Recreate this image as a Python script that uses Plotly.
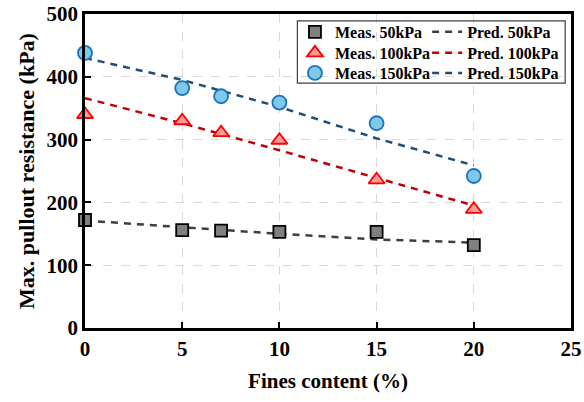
import plotly.graph_objects as go

fines_meas = [0, 5, 7, 10, 15, 20]
meas_50 = [172, 156, 155, 153, 153, 132]
meas_100 = [340, 330, 311, 299, 236, 189]
meas_150 = [438, 382, 369, 359, 326, 242]

fines_pred = [0, 5, 10, 15, 20]
pred_50 = [171, 160, 150, 141, 136]
pred_100 = [366, 326, 283, 239, 195]
pred_150 = [430, 395, 352, 302, 259]

x_ticks = [0, 5, 10, 15, 20, 25]
y_ticks = [0, 100, 200, 300, 400, 500]

FONT = "'Liberation Serif', 'Times New Roman', serif"

fig = go.Figure()

def pred(name, y, color, leg):
    fig.add_trace(go.Scatter(x=fines_pred, y=y, mode="lines", name=name,
                             line=dict(color=color, width=2.5, dash="7px,6px"),
                             legend=leg))

def meas(name, y, symbol, fill, edge, size, leg):
    fig.add_trace(go.Scatter(x=fines_meas, y=y, mode="markers", name=name,
                             marker=dict(symbol=symbol, size=size, color=fill,
                                         line=dict(color=edge, width=1.8)),
                             cliponaxis=False, legend=leg))

pred("Pred. 50kPa", pred_50, "#3f3f3f", "legend4")
pred("Pred. 100kPa", pred_100, "#c00000", "legend5")
pred("Pred. 150kPa", pred_150, "#1f4e79", "legend6")
meas("Meas. 50kPa", meas_50, "square", "#7f7f7f", "#000000", 12, "legend")
meas("Meas. 100kPa", meas_100, "triangle-up", "#ff9999", "#ff0000", 14, "legend2")
meas("Meas. 150kPa", meas_150, "circle", "#7ec8ea", "#1a75bc", 14, "legend3")

legfont = dict(family=FONT, size=16, color="black", weight="bold")
row_y = [0.943, 0.876, 0.812]

def legbox(x, y):
    return dict(x=x, y=y, xanchor="left", yanchor="middle", font=legfont,
                bgcolor="rgba(0,0,0,0)", itemwidth=30)

fig.update_layout(
    width=584, height=402,
    margin=dict(l=85, r=13, t=14, b=74, autoexpand=False),
    paper_bgcolor="white", plot_bgcolor="white",
    font=dict(family=FONT, color="black"),
    showlegend=True,
    legend=legbox(0.432, row_y[0]),
    legend2=legbox(0.432, row_y[1]),
    legend3=legbox(0.432, row_y[2]),
    legend4=legbox(0.704, row_y[0]),
    legend5=legbox(0.704, row_y[1]),
    legend6=legbox(0.704, row_y[2]),
    xaxis=dict(range=[0, 25], tickvals=x_ticks, ticktext=[str(v) for v in x_ticks],
               showline=True, linecolor="black", linewidth=2.5, mirror=True,
               ticks="inside", ticklen=6, tickcolor="black", tickwidth=1.5,
               showgrid=True, gridcolor="#d9d9d9", griddash="dash", gridwidth=1,
               zeroline=False, automargin=False,
               tickfont=dict(family=FONT, size=21, color="black", weight="bold"),
               title=dict(text="Fines content (%)", standoff=14,
                          font=dict(family=FONT, size=21, color="black", weight="bold"))),
    yaxis=dict(range=[0, 500], tickvals=y_ticks, ticktext=[str(v) for v in y_ticks],
               showline=True, linecolor="black", linewidth=2.5, mirror=True,
               ticks="inside", ticklen=6, tickcolor="black", tickwidth=1.5,
               showgrid=True, gridcolor="#d9d9d9", griddash="dash", gridwidth=1,
               zeroline=False, automargin=False,
               tickfont=dict(family=FONT, size=21, color="black", weight="bold"),
               title=dict(text="Max. pullout resistance (kPa)", standoff=6,
                          font=dict(family=FONT, size=22, color="black", weight="bold"))),
    shapes=[dict(type="rect", xref="paper", yref="paper", x0=0.437, x1=0.988,
                 y0=0.78, y1=0.978, line=dict(color="#404040", width=1.2),
                 fillcolor="rgba(0,0,0,0)")],
)

fig.write_html("out.html")
